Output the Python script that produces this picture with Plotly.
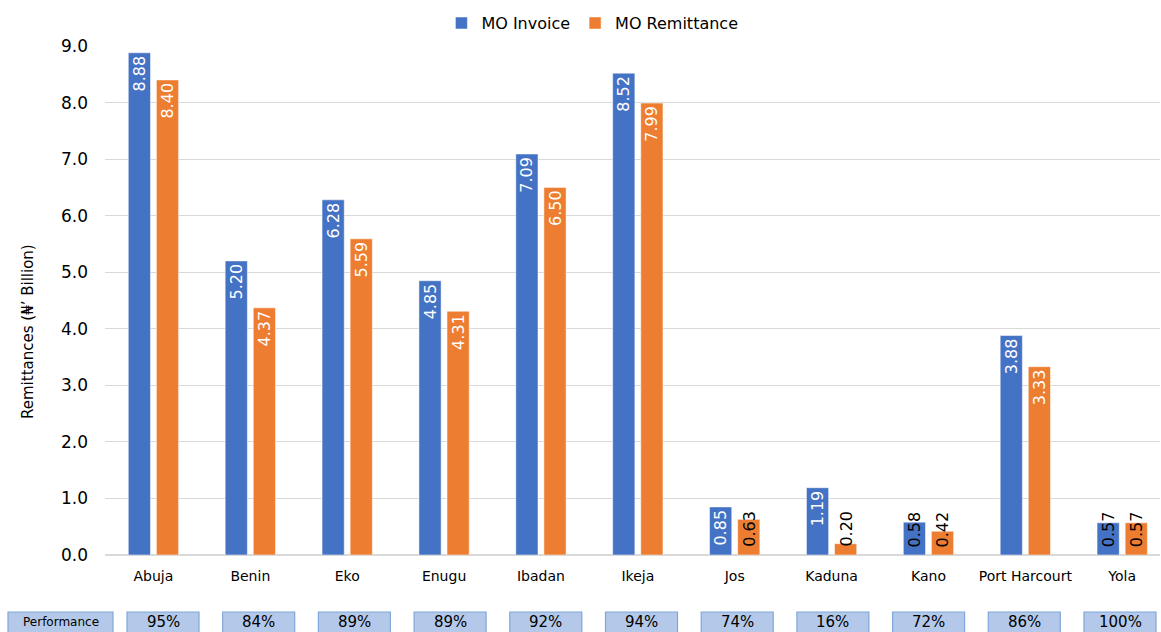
import plotly.graph_objects as go

categories = ["Abuja", "Benin", "Eko", "Enugu", "Ibadan", "Ikeja", "Jos", "Kaduna", "Kano", "Port Harcourt", "Yola"]
mo_invoice = [8.88, 5.20, 6.28, 4.85, 7.09, 8.52, 0.85, 1.19, 0.58, 3.88, 0.57]
mo_remittance = [8.40, 4.37, 5.59, 4.31, 6.50, 7.99, 0.63, 0.20, 0.42, 3.33, 0.57]
performance = ["95%", "84%", "89%", "89%", "92%", "94%", "74%", "16%", "72%", "86%", "100%"]
y_ticks = [0, 1, 2, 3, 4, 5, 6, 7, 8, 9]

FONT = "DejaVu Sans"
BLUE = "#4472C4"
ORANGE = "#ED7D31"
W, H = 1161, 632
ML, MR, MT, MB = 105, 1, 46, 77
PW = W - ML - MR
PH = H - MT - MB

def fmt(v):
    return f"{v:.2f}"

def inside_pos(vals):
    return ["inside" if v >= 0.8 else "none" for v in vals]

fig = go.Figure()
fig.add_trace(go.Bar(
    name="MO Invoice", x=categories, y=mo_invoice,
    marker=dict(color=BLUE, line=dict(color="white", width=0.5)),
    text=[fmt(v) for v in mo_invoice], textposition=inside_pos(mo_invoice),
    insidetextanchor="end", textangle=-90, constraintext="none",
    textfont=dict(family=FONT, size=16, color="white"),
    hoverinfo="skip",
))
fig.add_trace(go.Bar(
    name="MO Remittance", x=categories, y=mo_remittance,
    marker=dict(color=ORANGE, line=dict(color="white", width=0.5)),
    text=[fmt(v) for v in mo_remittance], textposition=inside_pos(mo_remittance),
    insidetextanchor="end", textangle=-90, constraintext="none",
    textfont=dict(family=FONT, size=16, color="white"),
    hoverinfo="skip",
))

annotations = []
for vals, shift in ((mo_invoice, -14), (mo_remittance, 14)):
    for c, v in zip(categories, vals):
        if v < 0.8:
            annotations.append(dict(
                x=c, y=0, xref="x", yref="y", text=fmt(v), showarrow=False,
                textangle=-90, yanchor="bottom", xanchor="center",
                xshift=shift, yshift=6,
                font=dict(family=FONT, size=16, color="black"),
            ))

def px_to_paper_x(px):
    return (px - ML) / PW

def px_to_paper_y(py):
    return (H - MB - py) / PH

# y-axis title
annotations.append(dict(x=px_to_paper_x(28), y=px_to_paper_y(332), xref="paper", yref="paper",
                        xanchor="center", yanchor="middle", textangle=-90,
                        text="Remittances (₦’ Billion)", showarrow=False,
                        font=dict(family=FONT, size=15, color="black")))

shapes = []
box_top = px_to_paper_y(612)
box_bot = px_to_paper_y(640)
text_y = px_to_paper_y(622)
BOX_FILL = "#B4C9E9"
BOX_LINE = "#7FA7D9"
# Performance header box
shapes.append(dict(type="rect", xref="paper", yref="paper",
                   x0=px_to_paper_x(8), x1=px_to_paper_x(113), y0=box_bot, y1=box_top,
                   fillcolor=BOX_FILL, line=dict(color=BOX_LINE, width=1.2), layer="below"))
annotations.append(dict(x=px_to_paper_x(61), y=text_y, xref="paper", yref="paper",
                        xanchor="center", yanchor="middle",
                        text="Performance", showarrow=False,
                        font=dict(family=FONT, size=12, color="black")))
for i, p in enumerate(performance):
    cx = 163 + i * 95.7
    shapes.append(dict(type="rect", xref="paper", yref="paper",
                       x0=px_to_paper_x(cx - 36), x1=px_to_paper_x(cx + 36), y0=box_bot, y1=box_top,
                       fillcolor=BOX_FILL, line=dict(color=BOX_LINE, width=1.2), layer="below"))
    annotations.append(dict(x=px_to_paper_x(cx), y=text_y, xref="paper", yref="paper",
                            xanchor="center", yanchor="middle",
                            text=p, showarrow=False,
                            font=dict(family=FONT, size=15, color="black")))

fig.update_layout(
    width=W, height=H,
    margin=dict(l=ML, r=MR, t=MT, b=MB, autoexpand=False),
    paper_bgcolor="white", plot_bgcolor="white",
    barmode="group", bargap=0.42, bargroupgap=0.21,
    font=dict(family=FONT, color="black"),
    showlegend=True,
    legend=dict(orientation="h", x=0.462, y=1.045, xanchor="center", yanchor="middle",
                font=dict(family=FONT, size=16, color="black"), itemwidth=30,
                traceorder="normal", bgcolor="rgba(0,0,0,0)"),
    xaxis=dict(range=[-0.5, 10.39], showgrid=False, showline=True, linecolor="#D9D9D9",
               linewidth=1, ticks="", tickfont=dict(family=FONT, size=14, color="black"),
               ticklabelstandoff=8, fixedrange=True),
    yaxis=dict(range=[0, 9], tickvals=y_ticks, tickformat=".1f",
               showgrid=True, gridcolor="#D9D9D9", gridwidth=1,
               zeroline=True, zerolinecolor="#D9D9D9", showline=False, ticks="",
               tickfont=dict(family=FONT, size=17, color="black"), ticklabelstandoff=16,
               fixedrange=True),
    shapes=shapes,
    annotations=annotations,
)

fig.write_html("out.html")
